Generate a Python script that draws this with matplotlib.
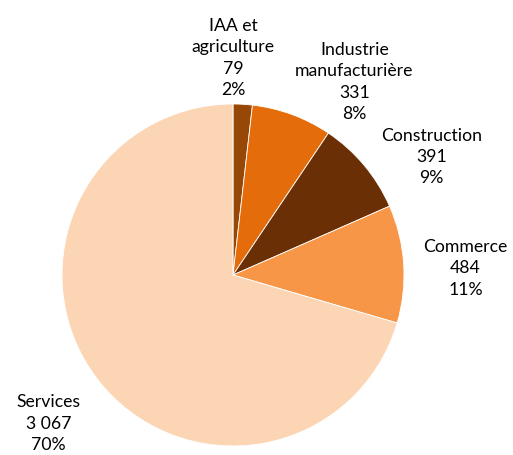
import matplotlib.pyplot as plt

# data
categories = ['IAA et\nagriculture', 'Industrie\nmanufacturière', 'Construction', 'Commerce', 'Services']
values = [79, 331, 391, 484, 3067]
value_labels = ['79', '331', '391', '484', '3 067']
colors = ['#974706', '#e46c0a', '#6b2f05', '#f79646', '#fcd5b4']

# label centres in pie units (radius = 1)
label_pos = [(0.0, 1.27), (0.71, 1.13), (1.16, 0.69), (1.36, 0.04), (-1.08, -0.87)]

plt.rcParams['font.family'] = ['Lato', 'DejaVu Sans']

fig = plt.figure(figsize=(5.13, 4.55), dpi=100)
ax = fig.add_axes([(233 - 171) / 513, (180 - 171) / 455, 342 / 513, 342 / 455])

total = sum(values)
wedges, texts = ax.pie(values, colors=colors, startangle=90, counterclock=False,
                       labels=categories, labeldistance=1.2,
                       wedgeprops=dict(edgecolor='white', linewidth=0.6))

for t, cat, v, lab, pos in zip(texts, categories, values, value_labels, label_pos):
    t.set_text(f'{cat}\n{lab}\n{round(v / total * 100)}%')
    t.set_position(pos)
    t.set_ha('center')
    t.set_va('center')
    t.set_fontsize(12.7)
    t.set_linespacing(1.42)
    t.set_color('black')

ax.set_xlim(-1, 1)
ax.set_ylim(-1, 1)
ax.set_aspect('equal')

fig.savefig('out.png', dpi=100)
